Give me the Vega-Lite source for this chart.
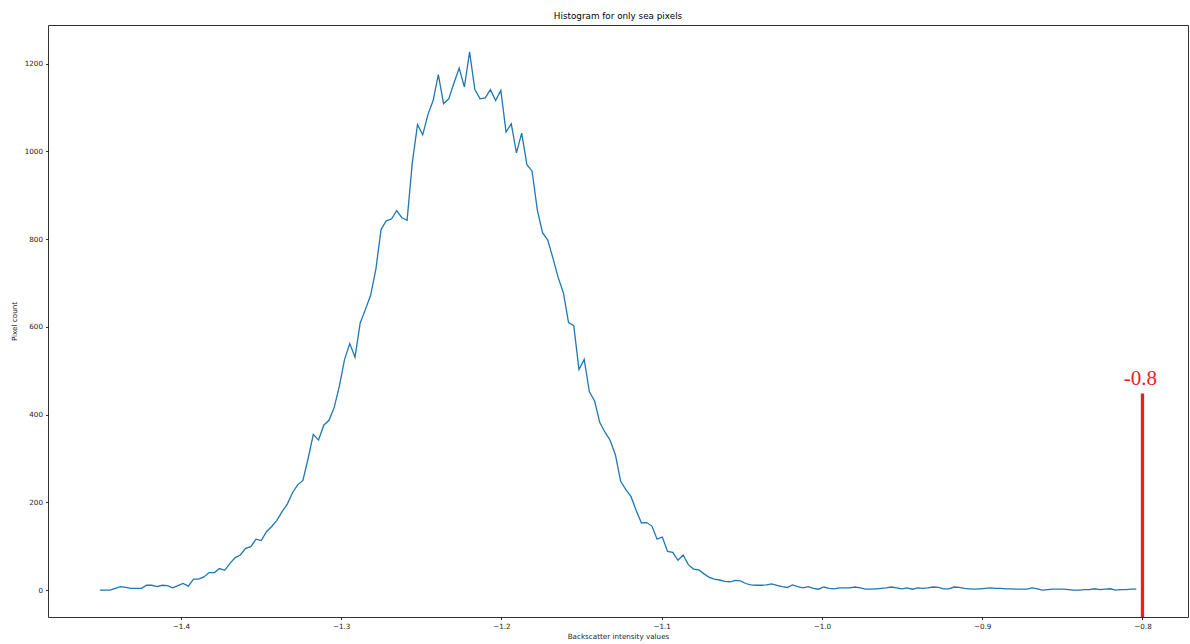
{
  "$schema": "https://vega.github.io/schema/vega-lite/v6.json",
  "width": 1140,
  "height": 592,
  "autosize": "none",
  "padding": {"left": 48, "top": 25, "right": 2, "bottom": 27},
  "background": "white",
  "config": {
    "view": {"stroke": "#333", "strokeWidth": 1},
    "font": "DejaVu Sans",
    "axis": {
      "grid": false,
      "domain": false,
      "ticks": true,
      "tickColor": "#000",
      "tickSize": 2.5,
      "tickWidth": 0.8,
      "labelFont": "DejaVu Sans",
      "labelFontSize": 7.2,
      "labelColor": "#222",
      "titleFont": "DejaVu Sans",
      "titleFontSize": 7.2,
      "titleFontWeight": "normal",
      "titleColor": "#222"
    }
  },
  "title": {
    "text": "Histogram for only sea pixels",
    "font": "DejaVu Sans",
    "fontSize": 8.8,
    "fontWeight": "normal",
    "color": "#000",
    "offset": 4
  },
  "datasets": {
    "hist": [
      {"x": -1.4506, "count": 0}, {"x": -1.44735, "count": 0}, {"x": -1.4441, "count": 0}, {"x": -1.44085, "count": 4},
      {"x": -1.4376, "count": 8}, {"x": -1.43435, "count": 6}, {"x": -1.4311, "count": 4}, {"x": -1.42785, "count": 4},
      {"x": -1.4246, "count": 4}, {"x": -1.42135, "count": 11}, {"x": -1.4181, "count": 11}, {"x": -1.41485, "count": 8},
      {"x": -1.4116, "count": 11}, {"x": -1.40835, "count": 10}, {"x": -1.4051, "count": 5}, {"x": -1.40185, "count": 10},
      {"x": -1.3986, "count": 15}, {"x": -1.39535, "count": 9}, {"x": -1.3921, "count": 25}, {"x": -1.38885, "count": 25},
      {"x": -1.3856, "count": 30}, {"x": -1.38235, "count": 40}, {"x": -1.3791, "count": 40}, {"x": -1.37585, "count": 49},
      {"x": -1.3726, "count": 45}, {"x": -1.36935, "count": 61}, {"x": -1.3661, "count": 74}, {"x": -1.36285, "count": 80},
      {"x": -1.3596, "count": 95}, {"x": -1.35635, "count": 99}, {"x": -1.3531, "count": 116}, {"x": -1.34985, "count": 113},
      {"x": -1.3466, "count": 133}, {"x": -1.34335, "count": 145}, {"x": -1.3401, "count": 159}, {"x": -1.33685, "count": 179},
      {"x": -1.3336, "count": 196}, {"x": -1.33035, "count": 222}, {"x": -1.3271, "count": 240}, {"x": -1.32385, "count": 250},
      {"x": -1.3206, "count": 300}, {"x": -1.31735, "count": 355}, {"x": -1.3141, "count": 342}, {"x": -1.31085, "count": 376},
      {"x": -1.3076, "count": 387}, {"x": -1.30435, "count": 416}, {"x": -1.3011, "count": 465}, {"x": -1.29785, "count": 526},
      {"x": -1.2946, "count": 562}, {"x": -1.29135, "count": 531}, {"x": -1.2881, "count": 609}, {"x": -1.28485, "count": 640},
      {"x": -1.2816, "count": 672}, {"x": -1.27835, "count": 731}, {"x": -1.2751, "count": 822}, {"x": -1.27185, "count": 842},
      {"x": -1.2686, "count": 846}, {"x": -1.26535, "count": 865}, {"x": -1.2621, "count": 849}, {"x": -1.25885, "count": 843},
      {"x": -1.2556, "count": 974}, {"x": -1.25235, "count": 1061}, {"x": -1.2491, "count": 1038}, {"x": -1.24585, "count": 1084},
      {"x": -1.2426, "count": 1116}, {"x": -1.23935, "count": 1175}, {"x": -1.2361, "count": 1109}, {"x": -1.23285, "count": 1120},
      {"x": -1.2296, "count": 1156}, {"x": -1.22635, "count": 1190}, {"x": -1.2231, "count": 1147}, {"x": -1.21985, "count": 1227},
      {"x": -1.2166, "count": 1142}, {"x": -1.21335, "count": 1120}, {"x": -1.2101, "count": 1122}, {"x": -1.20685, "count": 1141},
      {"x": -1.2036, "count": 1116}, {"x": -1.20035, "count": 1139}, {"x": -1.1971, "count": 1044}, {"x": -1.19385, "count": 1063},
      {"x": -1.1906, "count": 997}, {"x": -1.18735, "count": 1042}, {"x": -1.1841, "count": 970}, {"x": -1.18085, "count": 955},
      {"x": -1.1776, "count": 867}, {"x": -1.17435, "count": 815}, {"x": -1.1711, "count": 798}, {"x": -1.16785, "count": 757},
      {"x": -1.1646, "count": 713}, {"x": -1.16135, "count": 678}, {"x": -1.1581, "count": 610}, {"x": -1.15485, "count": 603},
      {"x": -1.1516, "count": 503}, {"x": -1.14835, "count": 526}, {"x": -1.1451, "count": 452}, {"x": -1.14185, "count": 431},
      {"x": -1.1386, "count": 382}, {"x": -1.13535, "count": 360}, {"x": -1.1321, "count": 341}, {"x": -1.12885, "count": 308},
      {"x": -1.1256, "count": 248}, {"x": -1.12235, "count": 229}, {"x": -1.1191, "count": 213}, {"x": -1.11585, "count": 181},
      {"x": -1.1126, "count": 153}, {"x": -1.10935, "count": 154}, {"x": -1.1061, "count": 146}, {"x": -1.10285, "count": 116},
      {"x": -1.0996, "count": 121}, {"x": -1.09635, "count": 88}, {"x": -1.0931, "count": 86}, {"x": -1.08985, "count": 68},
      {"x": -1.0866, "count": 80}, {"x": -1.08335, "count": 58}, {"x": -1.0801, "count": 48}, {"x": -1.07685, "count": 46},
      {"x": -1.0736, "count": 37}, {"x": -1.07035, "count": 29}, {"x": -1.0671, "count": 25}, {"x": -1.06385, "count": 23},
      {"x": -1.0606, "count": 20}, {"x": -1.05735, "count": 19}, {"x": -1.0541, "count": 22}, {"x": -1.05085, "count": 21},
      {"x": -1.0476, "count": 15}, {"x": -1.04435, "count": 12}, {"x": -1.0411, "count": 11}, {"x": -1.03785, "count": 11},
      {"x": -1.0346, "count": 12}, {"x": -1.03135, "count": 14}, {"x": -1.0281, "count": 11}, {"x": -1.02485, "count": 8},
      {"x": -1.0216, "count": 6}, {"x": -1.01835, "count": 12}, {"x": -1.0151, "count": 8}, {"x": -1.01185, "count": 5},
      {"x": -1.0086, "count": 8}, {"x": -1.00535, "count": 4}, {"x": -1.0021, "count": 2}, {"x": -0.99885, "count": 7},
      {"x": -0.9956, "count": 4}, {"x": -0.99235, "count": 3}, {"x": -0.9891, "count": 5}, {"x": -0.98585, "count": 5},
      {"x": -0.9826, "count": 5}, {"x": -0.97935, "count": 7}, {"x": -0.9761, "count": 5}, {"x": -0.97285, "count": 2},
      {"x": -0.9696, "count": 2}, {"x": -0.96635, "count": 3}, {"x": -0.9631, "count": 4}, {"x": -0.95985, "count": 5},
      {"x": -0.9566, "count": 7}, {"x": -0.95335, "count": 5}, {"x": -0.9501, "count": 3}, {"x": -0.94685, "count": 5},
      {"x": -0.9436, "count": 2}, {"x": -0.94035, "count": 5}, {"x": -0.9371, "count": 4}, {"x": -0.93385, "count": 5},
      {"x": -0.9306, "count": 7}, {"x": -0.92735, "count": 6}, {"x": -0.9241, "count": 3}, {"x": -0.92085, "count": 3},
      {"x": -0.9176, "count": 7}, {"x": -0.91435, "count": 6}, {"x": -0.9111, "count": 4}, {"x": -0.90785, "count": 3},
      {"x": -0.9046, "count": 2}, {"x": -0.90135, "count": 3}, {"x": -0.8981, "count": 4}, {"x": -0.89485, "count": 5},
      {"x": -0.8916, "count": 4}, {"x": -0.88835, "count": 4}, {"x": -0.8851, "count": 3}, {"x": -0.88185, "count": 3},
      {"x": -0.8786, "count": 2}, {"x": -0.87535, "count": 2}, {"x": -0.8721, "count": 2}, {"x": -0.86885, "count": 5},
      {"x": -0.8656, "count": 3}, {"x": -0.86235, "count": 0}, {"x": -0.8591, "count": 1}, {"x": -0.85585, "count": 2},
      {"x": -0.8526, "count": 2}, {"x": -0.84935, "count": 2}, {"x": -0.8461, "count": 1}, {"x": -0.84285, "count": 0},
      {"x": -0.8396, "count": 0}, {"x": -0.83635, "count": 1}, {"x": -0.8331, "count": 1}, {"x": -0.82985, "count": 3},
      {"x": -0.8266, "count": 1}, {"x": -0.82335, "count": 2}, {"x": -0.8201, "count": 3}, {"x": -0.81685, "count": 0},
      {"x": -0.8136, "count": 1}, {"x": -0.81035, "count": 1}, {"x": -0.8071, "count": 2}, {"x": -0.80385, "count": 2}
    ],
    "marker": [
      {"x": -0.8, "bottom": -61.35, "top": 448, "label": "-0.8", "labelY": 467}
    ]
  },
  "layer": [
    {
      "data": {"name": "hist"},
      "mark": {"type": "line", "color": "#1f77b4", "strokeWidth": 1.3, "clip": true},
      "encoding": {
        "x": {
          "field": "x",
          "type": "quantitative",
          "scale": {"domain": [-1.4829, -0.7716], "nice": false, "zero": false},
          "axis": {
            "values": [-1.4, -1.3, -1.2, -1.1, -1.0, -0.9, -0.8],
            "labelExpr": "replace(format(datum.value, '.1f'), '-', '\u2212')",
            "labelPadding": 2.5,
            "title": "Backscatter intensity values",
            "titlePadding": 3
          }
        },
        "y": {
          "field": "count",
          "type": "quantitative",
          "scale": {"domain": [-61.35, 1288.35], "nice": false, "zero": false},
          "axis": {
            "values": [0, 200, 400, 600, 800, 1000, 1200],
            "format": "d",
            "labelPadding": 3,
            "title": "Pixel count",
            "titlePadding": 6
          }
        }
      }
    },
    {
      "data": {"name": "marker"},
      "mark": {"type": "rule", "color": "#ee1c25", "strokeWidth": 3.3},
      "encoding": {
        "x": {"field": "x", "type": "quantitative"},
        "y": {"field": "bottom", "type": "quantitative"},
        "y2": {"field": "top"}
      }
    },
    {
      "data": {"name": "marker"},
      "mark": {"type": "text", "color": "#ee1c25", "font": "Liberation Serif", "fontSize": 21, "baseline": "alphabetic", "align": "center", "dx": -2},
      "encoding": {
        "x": {"field": "x", "type": "quantitative"},
        "y": {"field": "labelY", "type": "quantitative"},
        "text": {"field": "label"}
      }
    }
  ]
}
